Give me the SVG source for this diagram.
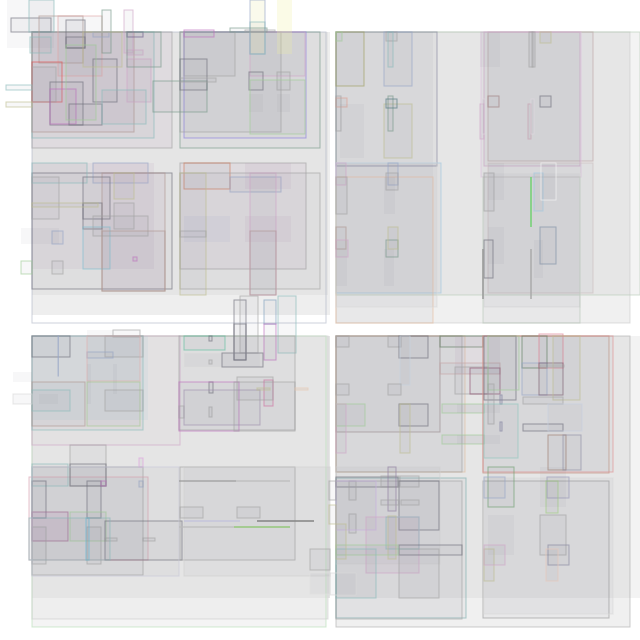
<svg xmlns="http://www.w3.org/2000/svg" width="640" height="640" viewBox="0 0 640 640">
<style>
rect{fill:#7c7c8c;fill-opacity:.06;stroke-width:1;stroke-opacity:.65}
rect.bg{fill-opacity:1;stroke:none}
rect.no{fill-opacity:0}
.f{stroke:none}
rect.pk{fill:#b890b8;fill-opacity:.12}
.g{stroke:#a4a4a4}
.d{stroke:#70707c}
.t{stroke:#8cbcbc}
.b{stroke:#98a8c8}
.p{stroke:#d0a8c8}
.m{stroke:#c070c0}
.o{stroke:#c0c090}
.n{stroke:#b09890}
.gr{stroke:#a0cc98}
.gg{stroke:#7a9a8a}
.r{stroke:#e05050}
.v{stroke:#8a80e0}
.or{stroke:#d08060}
</style>
<rect class="bg" width="640" height="640" style="fill:#ffffff"/>
<g id="backgrounds">
<rect class="bg" x="32" y="32" width="298" height="283" style="fill:#eeeeee"/>
<rect class="bg" x="32" y="32" width="296" height="263" style="fill:#e5e5e5"/>
<rect class="no" x="32" y="32" width="294" height="291" stroke="#b4b8c8"/>
<rect class="bg" x="336" y="32" width="304" height="263" style="fill:#f3f3f3"/>
<rect class="bg" x="336" y="295" width="294" height="28" style="fill:#f0f0f0"/>
<rect class="bg" x="336" y="32" width="294" height="263" style="fill:#e6e6e6"/>
<rect class="no" x="336" y="32" width="294" height="291" stroke="#cccccc"/>
<rect class="no" x="336" y="32" width="304" height="263" stroke="#b8ccb8"/>
<rect class="bg" x="32" y="336" width="298" height="262" style="fill:#e5e5e5"/>
<rect class="bg" x="32" y="598" width="296" height="21" style="fill:#eeeeee"/>
<rect class="bg" x="32" y="619" width="294" height="8" style="fill:#f4f4f4"/>
<rect class="no" x="32" y="336" width="294" height="291" stroke="#b8e0b8"/>
<rect class="no" x="32" y="336" width="296" height="283" stroke="#d0d0d0"/>
<rect class="bg" x="336" y="336" width="304" height="262" style="fill:#f3f3f3"/>
<rect class="bg" x="336" y="336" width="294" height="262" style="fill:#e6e6e6"/>
<rect class="bg" x="336" y="598" width="294" height="29" style="fill:#f0f0f0"/>
<rect class="no" x="336" y="336" width="294" height="291" stroke="#b0b0b0"/>
</g>
<g id="top-left">
<rect class="g pk" x="32" y="32" width="140" height="116"/>
<rect class="t" x="32" y="32" width="122" height="106"/>
<rect class="n pk" x="32" y="32" width="102" height="100"/>
<rect class="gg" x="180" y="32" width="140" height="116"/>
<rect class="v" x="184" y="32" width="122" height="106"/>
<rect class="g" x="180" y="32" width="101" height="100"/>
<rect class="g" x="184" y="32" width="51" height="44"/>
<rect class="p" x="250" y="32" width="55" height="44"/>
<rect class="f pk" x="32" y="163" width="122" height="106"/>
<rect class="d" x="32" y="173" width="140" height="116"/>
<rect class="t" x="32" y="163" width="55" height="20"/>
<rect class="b pk" x="93" y="163" width="55" height="20"/>
<rect class="n pk" x="102" y="173" width="63" height="118"/>
<rect class="g" x="32" y="177" width="27" height="42"/>
<rect class="d" x="83" y="177" width="27" height="42"/>
<rect class="d" x="83" y="203" width="19" height="26"/>
<rect class="o" x="114" y="173" width="20" height="26"/>
<rect class="g" x="114" y="203" width="20" height="26"/>
<rect stroke="#80c0d0" x="83" y="227" width="27" height="42"/>
<rect class="o" x="32" y="203" width="66" height="4"/>
<rect class="g" x="93" y="216" width="55" height="20"/>
<rect class="n" x="102" y="231" width="63" height="60"/>
<rect class="b" x="52" y="231" width="11" height="13"/>
<rect class="g" x="52" y="261" width="11" height="13"/>
<rect class="f" x="21" y="228" width="38" height="16"/>
<rect class="gr" x="21" y="261" width="11" height="13"/>
<rect class="m" x="133" y="257" width="4" height="4"/>
<rect class="g pk" x="180" y="163" width="126" height="106"/>
<rect class="or" x="184" y="163" width="46" height="26"/>
<rect class="b" x="230" y="177" width="51" height="15"/>
<rect class="g" x="180" y="173" width="140" height="116"/>
<rect class="o" x="180" y="173" width="26" height="122"/>
<rect class="p" x="250" y="173" width="26" height="122"/>
<rect class="n" x="250" y="231" width="26" height="64"/>
<rect class="g" x="180" y="231" width="26" height="6"/>
<rect class="f" x="184" y="216" width="46" height="26" style="fill:#8090c0;fill-opacity:.08"/>
<rect class="f pk" x="245" y="163" width="46" height="26"/>
<rect class="f pk" x="245" y="216" width="46" height="26"/>
<rect class="f" x="7" y="0" width="47" height="48"/>
<rect class="d" x="11" y="18" width="40" height="14"/>
<rect class="t" x="29" y="0" width="25" height="32"/>
<rect class="n" x="39" y="16" width="44" height="47"/>
<rect stroke="#e0a8a8" x="58" y="16" width="44" height="60"/>
<rect class="d" x="66" y="20" width="19" height="28"/>
<rect class="d" x="66" y="37" width="19" height="11"/>
<rect class="t" x="30" y="37" width="21" height="16"/>
<rect class="gg" x="102" y="10" width="9" height="43"/>
<rect class="p" x="124" y="10" width="9" height="43"/>
<rect stroke="#6a5a8a" x="127" y="32" width="16" height="5"/>
<rect class="b" x="93" y="32" width="16" height="5"/>
<rect class="p" x="127" y="50" width="16" height="5"/>
<rect class="r" x="32" y="62" width="30" height="40"/>
<rect class="g" x="32" y="67" width="24" height="35"/>
<rect class="d" x="50" y="82" width="33" height="43"/>
<rect class="m pk" x="50" y="89" width="26" height="35"/>
<rect class="d" x="69" y="104" width="33" height="21"/>
<rect class="d" x="93" y="59" width="24" height="43"/>
<rect class="p pk" x="127" y="59" width="24" height="43"/>
<rect class="gr" x="66" y="45" width="30" height="75"/>
<rect class="o" x="83" y="32" width="39" height="35"/>
<rect class="gg" x="127" y="32" width="34" height="35"/>
<rect class="t" x="102" y="90" width="44" height="34"/>
<rect class="gg" x="153" y="81" width="54" height="31"/>
<rect class="d" x="180" y="59" width="27" height="31"/>
<rect class="g" x="180" y="78" width="36" height="4"/>
<rect class="t" x="6" y="85" width="26" height="5"/>
<rect class="o" x="6" y="102" width="26" height="5"/>
<rect class="d" x="249" y="72" width="14" height="18"/>
<rect class="f" x="249" y="94" width="14" height="18"/>
<rect class="g" x="277" y="72" width="13" height="18"/>
<rect class="f" x="277" y="94" width="13" height="18"/>
<rect class="b" x="250" y="0" width="15" height="54" style="fill:#f0f0c0;fill-opacity:.3"/>
<rect class="t" x="250" y="22" width="15" height="32"/>
<rect class="f" x="277" y="0" width="15" height="54" style="fill:#f0f0a0;fill-opacity:.25"/>
<rect class="gg" x="230" y="28" width="37" height="4"/>
<rect class="g" x="245" y="30" width="30" height="2"/>
<rect class="m" x="184" y="30" width="30" height="7"/>
<rect class="gr" x="250" y="80" width="55" height="54"/>
<rect class="d" x="234" y="300" width="12" height="60"/>
<rect class="g" x="240" y="296" width="18" height="57"/>
<rect stroke="#7fa0c0" x="264" y="300" width="12" height="24"/>
<rect class="m" x="264" y="324" width="12" height="36"/>
<rect class="t" x="278" y="296" width="18" height="57"/>
</g>
<g id="top-right">
<rect stroke="#8888a0" x="336" y="32" width="101" height="134"/>
<rect class="f" x="336" y="32" width="97" height="145"/>
<rect stroke="#a0a060" x="336" y="32" width="28" height="54"/>
<rect class="b" x="384" y="32" width="28" height="54"/>
<rect class="g" x="386" y="32" width="11" height="9"/>
<rect class="t" x="388" y="32" width="5" height="35"/>
<rect class="gr" x="336" y="32" width="6" height="9"/>
<rect class="o" x="384" y="104" width="28" height="54"/>
<rect class="gg" x="388" y="96" width="5" height="35"/>
<rect stroke="#507880" x="386" y="99" width="11" height="9"/>
<rect stroke="#e0a090" x="336" y="98" width="11" height="9"/>
<rect class="g" x="336" y="96" width="5" height="35"/>
<rect class="f" x="340" y="104" width="24" height="54"/>
<rect stroke="#a0c8e0" x="336" y="163" width="105" height="130"/>
<rect stroke="#e8c0a0" x="336" y="177" width="97" height="146"/>
<rect stroke="#d8d8d8" x="336" y="163" width="101" height="144"/>
<rect class="b" x="388" y="163" width="10" height="22"/>
<rect class="g" x="386" y="173" width="12" height="17"/>
<rect class="p" x="336" y="163" width="10" height="22"/>
<rect class="g" x="336" y="177" width="11" height="37"/>
<rect class="f" x="384" y="177" width="11" height="37"/>
<rect class="n" x="336" y="227" width="10" height="22"/>
<rect class="p" x="336" y="240" width="12" height="17"/>
<rect class="gg" x="386" y="240" width="12" height="17"/>
<rect class="o" x="388" y="227" width="10" height="22"/>
<rect class="f" x="384" y="249" width="10" height="37"/>
<rect class="f" x="336" y="249" width="11" height="37"/>
<rect stroke="#c0a8a8" x="488" y="32" width="105" height="129"/>
<rect class="p" x="484" y="32" width="96" height="134"/>
<rect stroke="#dcc0dc" x="481" y="32" width="100" height="145"/>
<rect class="g" x="529" y="32" width="4" height="35"/>
<rect class="g" x="532" y="32" width="3" height="35"/>
<rect class="o" x="540" y="32" width="11" height="11"/>
<rect stroke="#a08080" x="488" y="96" width="11" height="11"/>
<rect class="d" x="540" y="96" width="11" height="11"/>
<rect class="p" x="480" y="104" width="4" height="35"/>
<rect stroke="#c8a0b0" x="528" y="104" width="3" height="35"/>
<rect stroke="#e0d8e0" x="482" y="99" width="3" height="35"/>
<rect stroke="#e0d8e0" x="531" y="99" width="3" height="35"/>
<rect class="f" x="480" y="32" width="20" height="35"/>
<rect stroke="#ccc0c0" x="488" y="163" width="105" height="130"/>
<rect stroke="#d8d8d8" x="484" y="173" width="96" height="134"/>
<rect stroke="#b8c8b8" x="483" y="177" width="97" height="146"/>
<rect class="g" x="484" y="173" width="10" height="38"/>
<rect class="f" x="488" y="163" width="16" height="37"/>
<rect class="f" x="488" y="227" width="16" height="37"/>
<rect class="d" x="484" y="240" width="9" height="38"/>
<rect stroke="#a0c8e0" x="534" y="173" width="9" height="38"/>
<rect stroke="#f8f8f8" x="541" y="163" width="15" height="37"/>
<rect stroke="#8090a8" x="540" y="227" width="16" height="37"/>
<rect class="f" x="534" y="240" width="9" height="38"/>
</g>
<g id="bottom-left">
<rect class="p" x="32" y="336" width="148" height="109" style="fill:#c8a8b8;fill-opacity:.06"/>
<rect class="f" x="32" y="336" width="116" height="84" style="fill:#a8c8d8;fill-opacity:.15"/>
<rect class="t" x="32" y="336" width="111" height="94"/>
<rect class="d" x="32" y="336" width="38" height="21"/>
<rect class="g" x="105" y="336" width="38" height="21"/>
<rect class="g" x="113" y="330" width="27" height="7"/>
<rect class="f" x="87" y="330" width="26" height="6"/>
<rect class="b" x="87" y="352" width="26" height="6"/>
<rect stroke="#e0b0b0" x="87" y="336" width="53" height="45"/>
<rect class="n" x="32" y="382" width="53" height="44"/>
<rect stroke="#a8c890" x="87" y="382" width="53" height="44"/>
<rect class="g" x="105" y="390" width="38" height="21"/>
<rect class="f" x="39" y="394" width="19" height="10"/>
<rect class="t" x="32" y="390" width="38" height="21"/>
<rect class="f" x="13" y="372" width="19" height="10"/>
<rect stroke="#d8d8d8" x="13" y="394" width="19" height="10"/>
<rect class="f" x="87" y="364" width="4" height="40"/>
<rect class="f" x="113" y="364" width="4" height="30"/>
<rect class="b" x="58" y="336" width="0.5" height="40"/>
<rect class="g" x="179" y="336" width="116" height="94"/>
<rect stroke="#60c0a0" x="184" y="336" width="41" height="14"/>
<rect stroke="#dcdcdc" x="184" y="353" width="76" height="14"/>
<rect class="d" x="222" y="353" width="41" height="14"/>
<rect class="d" x="234" y="324" width="12" height="36"/>
<rect class="d" x="209" y="336" width="3" height="5"/>
<rect class="g" x="209" y="360" width="3" height="4"/>
<rect class="d" x="209" y="382" width="4" height="11"/>
<rect class="g" x="209" y="407" width="3" height="10"/>
<rect class="m" x="179" y="382" width="60" height="49"/>
<rect stroke="#a090b0" x="184" y="390" width="76" height="35"/>
<rect class="g" x="234" y="382" width="61" height="49"/>
<rect stroke="#d070a0" x="264" y="380" width="9" height="26"/>
<rect class="g" x="179" y="406" width="5" height="12"/>
<rect class="g" x="237" y="377" width="36" height="23"/>
<rect class="o" x="257" y="388" width="13" height="2"/>
<rect stroke="#e8c8b0" x="295" y="388" width="13" height="2"/>
<rect class="g" x="32" y="467" width="111" height="108"/>
<rect stroke="#d8a0b0" x="29" y="477" width="119" height="83"/>
<rect class="g" x="70" y="445" width="36" height="41"/>
<rect class="d" x="70" y="464" width="36" height="22"/>
<rect class="t" x="32" y="464" width="36" height="22"/>
<rect class="d" x="32" y="481" width="14" height="37"/>
<rect class="d" x="87" y="481" width="14" height="37"/>
<rect stroke="#a06890" x="32" y="512" width="36" height="29" style="fill:#b888b8;fill-opacity:.2"/>
<rect class="gr" x="70" y="512" width="36" height="29"/>
<rect class="g" x="32" y="527" width="14" height="37"/>
<rect class="g" x="87" y="527" width="14" height="37"/>
<rect stroke="#60c0e0" x="86" y="518" width="3" height="42"/>
<rect class="d" x="105" y="521" width="77" height="39"/>
<rect class="g" x="105" y="538" width="12" height="3"/>
<rect class="g" x="143" y="538" width="12" height="3"/>
<rect class="t" x="29" y="518" width="81" height="42"/>
<rect class="m" x="101" y="481" width="5" height="5"/>
<rect stroke="#e0a0e0" x="139" y="458" width="4" height="9"/>
<rect class="b" x="139" y="481" width="4" height="6"/>
<rect stroke="#c8c8d8" x="32" y="467" width="147" height="109"/>
<rect class="g" x="180" y="467" width="115" height="93"/>
<rect stroke="#d0d0d0" x="184" y="467" width="146" height="109"/>
<rect class="f" x="179" y="480" width="57" height="2" style="fill:#999;fill-opacity:.6"/>
<rect class="f" x="236" y="480" width="54" height="2" style="fill:#bbb;fill-opacity:.6"/>
<rect class="g" x="180" y="507" width="23" height="11"/>
<rect class="g" x="237" y="507" width="23" height="11"/>
<rect class="f" x="257" y="520" width="57" height="2" style="fill:#888;fill-opacity:.8"/>
<rect class="f" x="184" y="520" width="56" height="2" style="fill:#c0c0dc;fill-opacity:.6"/>
<rect class="f" x="179" y="526" width="55" height="2" style="fill:#bbb;fill-opacity:.6"/>
<rect class="f" x="234" y="526" width="56" height="2" style="fill:#98c880;fill-opacity:.8"/>
<rect class="g" x="310" y="549" width="20" height="21"/>
<rect stroke="#e0e0e0" x="310" y="573" width="20" height="21"/>
</g>
<g id="bottom-right">
<rect stroke="#a09090" x="336" y="336" width="104" height="96"/>
<rect stroke="#e0c0a0" x="336" y="336" width="129" height="136"/>
<rect class="g" x="336" y="336" width="126" height="136"/>
<rect class="g" x="336" y="336" width="13" height="11"/>
<rect class="g" x="388" y="336" width="13" height="11"/>
<rect class="d" x="399" y="336" width="29" height="22"/>
<rect stroke="#c8d4e0" x="400" y="336" width="10" height="49"/>
<rect class="g" x="336" y="384" width="13" height="11"/>
<rect class="g" x="388" y="384" width="13" height="11"/>
<rect class="d" x="399" y="404" width="29" height="22"/>
<rect class="o" x="400" y="404" width="10" height="49"/>
<rect class="gr" x="336" y="404" width="29" height="22"/>
<rect class="p" x="336" y="404" width="10" height="49"/>
<rect stroke="#608060" x="440" y="336" width="43" height="11"/>
<rect class="f pk" x="455" y="336" width="45" height="38"/>
<rect stroke="#c8a8a8" x="440" y="363" width="60" height="11"/>
<rect class="g" x="455" y="367" width="33" height="27"/>
<rect stroke="#905070" x="470" y="368" width="30" height="26"/>
<rect class="gr" x="442" y="404" width="42" height="9"/>
<rect class="f" x="457" y="404" width="43" height="9"/>
<rect class="gr" x="442" y="435" width="42" height="9"/>
<rect class="f" x="457" y="435" width="43" height="9"/>
<rect stroke="#c09080" x="483" y="336" width="126" height="137"/>
<rect stroke="#e09090" x="483" y="336" width="130" height="136"/>
<rect class="d" x="484" y="336" width="32" height="64"/>
<rect class="gr" x="488" y="336" width="31" height="54"/>
<rect stroke="#608060" x="522" y="336" width="25" height="32"/>
<rect stroke="#e08090" x="539" y="334" width="24" height="34"/>
<rect class="b" x="522" y="363" width="25" height="32"/>
<rect stroke="#806070" x="539" y="363" width="24" height="32"/>
<rect class="o" x="553" y="336" width="27" height="64"/>
<rect class="g" x="540" y="365" width="24" height="2"/>
<rect class="g" x="488" y="384" width="6" height="40"/>
<rect stroke="#8080a0" x="500" y="395" width="2" height="9"/>
<rect stroke="#8080a0" x="500" y="422" width="2" height="9"/>
<rect class="g" x="523" y="397" width="40" height="7"/>
<rect class="d" x="523" y="424" width="40" height="7"/>
<rect stroke="#90c8c0" x="484" y="404" width="34" height="54"/>
<rect stroke="#a08070" x="548" y="435" width="18" height="35"/>
<rect stroke="#9090a8" x="563" y="435" width="18" height="35"/>
<rect stroke="#c8d0e0" x="548" y="404" width="34" height="27"/>
<rect stroke="#80b0b0" x="336" y="478" width="130" height="140"/>
<rect class="g" x="336" y="481" width="126" height="138"/>
<rect stroke="#d0d0d0" x="336" y="467" width="104" height="97"/>
<rect class="d" x="336" y="477" width="62" height="10"/>
<rect class="g" x="381" y="476" width="18" height="11"/>
<rect class="g" x="400" y="476" width="19" height="11"/>
<rect stroke="#9080a0" x="388" y="467" width="8" height="44"/>
<rect class="d" x="399" y="481" width="40" height="49"/>
<rect class="g" x="349" y="481" width="7" height="19"/>
<rect class="g" x="349" y="514" width="7" height="19"/>
<rect stroke="#c8b0e0" x="336" y="481" width="40" height="49"/>
<rect class="g" x="381" y="500" width="18" height="5"/>
<rect class="g" x="401" y="500" width="18" height="5"/>
<rect class="p pk" x="366" y="517" width="53" height="56"/>
<rect class="t" x="386" y="517" width="33" height="32"/>
<rect class="o" x="388" y="516" width="8" height="43"/>
<rect class="d" x="399" y="545" width="63" height="10"/>
<rect class="g" x="399" y="549" width="40" height="49"/>
<rect class="gr" x="336" y="545" width="62" height="10"/>
<rect class="t" x="336" y="549" width="40" height="49"/>
<rect stroke="#d8d8d8" x="330" y="573" width="26" height="22"/>
<rect class="o" x="336" y="524" width="10" height="35"/>
<rect class="g" x="329" y="481" width="7" height="19"/>
<rect class="o" x="329" y="505" width="7" height="19"/>
<rect stroke="#999999" x="483" y="481" width="126" height="137"/>
<rect stroke="#d8d8d8" x="484" y="478" width="129" height="136"/>
<rect stroke="#70a070" x="488" y="467" width="26" height="40"/>
<rect class="b" x="484" y="477" width="21" height="21"/>
<rect stroke="#9898b8" x="547" y="477" width="22" height="21"/>
<rect stroke="#a0d080" x="546" y="481" width="12" height="32"/>
<rect class="f" x="540" y="467" width="26" height="40"/>
<rect class="f" x="488" y="515" width="26" height="40"/>
<rect class="g" x="540" y="515" width="26" height="40"/>
<rect stroke="#8888a0" x="548" y="545" width="21" height="20"/>
<rect class="o" x="484" y="549" width="10" height="32"/>
<rect class="p" x="484" y="545" width="21" height="20"/>
<rect stroke="#e8c8b8" x="546" y="549" width="12" height="32"/>
</g>
<g id="connectors">
<line x1="483" y1="249" x2="483" y2="299" stroke="#999" stroke-width="1.5"/>
<line x1="531" y1="249" x2="531" y2="299" stroke="#aaa" stroke-width="1.5"/>
<line x1="531" y1="177" x2="531" y2="227" stroke="#70d070" stroke-width="1.5"/>
</g>
</svg>
